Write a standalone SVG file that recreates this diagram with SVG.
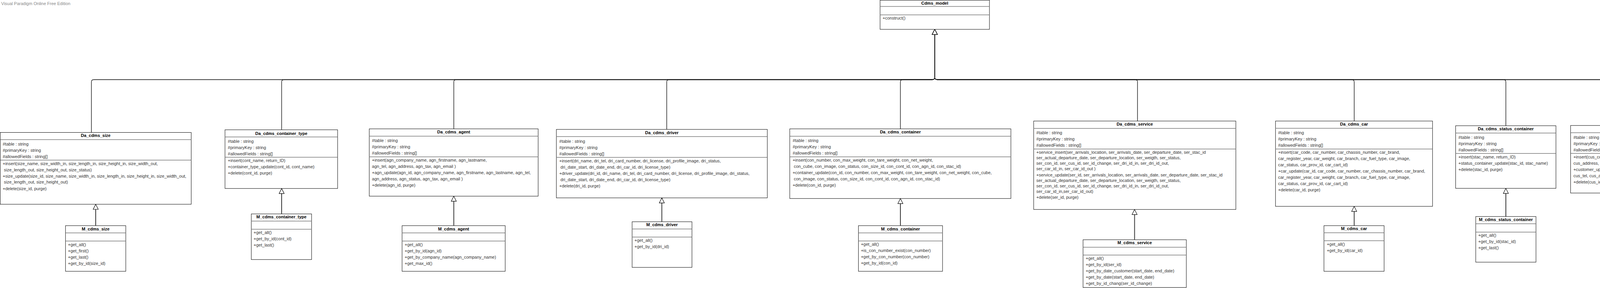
<svg xmlns="http://www.w3.org/2000/svg" width="4713" height="736" viewBox="0 0 4713 736">
<style>
.box{fill:#fff;stroke:#000;stroke-width:1}
.sep{fill:none;stroke:#7a7a7a;stroke-width:1.5}
.hdr{font-family:"Liberation Sans",Arial,sans-serif;font-size:11px;font-weight:bold;fill:#000;text-anchor:middle}
.mem{font-family:"Liberation Sans",Arial,sans-serif;font-size:11px;fill:#333}
.conn{fill:none;stroke:#000;stroke-width:1.3}
.gen{fill:none;stroke:#333;stroke-width:2}
.wm{font-family:"Liberation Sans",Arial,sans-serif;font-size:11px;fill:#888}
</style>
<defs>
<marker id="tri" markerUnits="userSpaceOnUse" markerWidth="16" markerHeight="16" viewBox="-1 -1 16 16" refX="13" refY="6.5" orient="auto" overflow="visible">
<path d="M13 6.5L0 0L0 13Z" fill="#fff" stroke="#000" stroke-width="1.2"/>
</marker>
</defs>
<rect width="4713" height="736" fill="#fff"/>
<text class="wm" x="3" y="13">Visual Paradigm Online Free Edition</text>
<text class="wm" x="4515" y="730">Visual Paradigm Online Free Edition</text>

<g id="connectors">
<path class="conn" marker-end="url(#tri)" d="M234 338.5V209.5Q234 203.5 240 203.5H2387Q2393 203.5 2393 197.5V75"/>
<path class="conn" marker-end="url(#tri)" d="M721 331.7V209.5Q721 203.5 727 203.5H2387Q2393 203.5 2393 197.5V75"/>
<path class="conn" marker-end="url(#tri)" d="M1161.7 329.3V209.5Q1161.7 203.5 1167.7 203.5H2387Q2393 203.5 2393 197.5V75"/>
<path class="conn" marker-end="url(#tri)" d="M1706.8 330.7V209.5Q1706.8 203.5 1712.8 203.5H2387Q2393 203.5 2393 197.5V75"/>
<path class="conn" marker-end="url(#tri)" d="M2305 329.3V209.5Q2305 203.5 2311 203.5H2387Q2393 203.5 2393 197.5V75"/>
<path class="conn" marker-end="url(#tri)" d="M2912 309.3V209.5Q2912 203.5 2906 203.5H2399Q2393 203.5 2393 197.5V75"/>
<path class="conn" marker-end="url(#tri)" d="M3466.7 309.3V209.5Q3466.7 203.5 3460.7 203.5H2399Q2393 203.5 2393 197.5V75"/>
<path class="conn" marker-end="url(#tri)" d="M3855 321.3V209.5Q3855 203.5 3849 203.5H2399Q2393 203.5 2393 197.5V75"/>
<path class="conn" marker-end="url(#tri)" d="M4236.8 320.7V209.5Q4236.8 203.5 4230.8 203.5H2399Q2393 203.5 2393 197.5V75"/>
<path class="conn" marker-end="url(#tri)" d="M4601.7 327.3V209.5Q4601.7 203.5 4595.7 203.5H2399Q2393 203.5 2393 197.5V75"/>
<path class="gen" marker-end="url(#tri)" d="M245 576.7V522"/>
<path class="gen" marker-end="url(#tri)" d="M721 546.7V481.7"/>
<path class="gen" marker-end="url(#tri)" d="M1161.7 576.7V501.3"/>
<path class="gen" marker-end="url(#tri)" d="M1694.3 566.7V505.7"/>
<path class="gen" marker-end="url(#tri)" d="M2305 576.7V507.3"/>
<path class="gen" marker-end="url(#tri)" d="M2904.5 612.7V535.3"/>
<path class="gen" marker-end="url(#tri)" d="M3466.7 576.7V527.3"/>
<path class="gen" marker-end="url(#tri)" d="M3855 553.3V481.3"/>
<path class="gen" marker-end="url(#tri)" d="M4236.8 553.3V493.3"/>
<path class="gen" marker-end="url(#tri)" d="M4601.7 530.3V465.7"/>
</g>

<g id="Cdms_model">
<rect class="box" x="2253" y="0.5" width="280" height="74.5"/>
<path class="sep" d="M2253 16.5H2533M2253 38H2533"/>
<text class="hdr" x="2393" y="12">Cdms_model</text>
<text class="mem" x="2259.5" y="50">+construct()</text>
</g>

<g id="Da_cdms_size">
<rect class="box" x="0.5" y="338.5" width="489" height="183.5"/>
<path class="sep" d="M0.5 356.7H489.5M0.5 409.3H489.5"/>
<text class="hdr" x="245" y="350">Da_cdms_size</text>
<text class="mem" x="7" y="372">#table : string</text>
<text class="mem" x="7" y="387.5">#primaryKey : string</text>
<text class="mem" x="7" y="403.5">#allowedFields : string[]</text>
<text class="mem" x="7" y="422">+insert(size_name, size_width_in, size_length_in, size_height_in, size_width_out,</text>
<text class="mem" x="10" y="437.5">size_length_out, size_height_out, size_status)</text>
<text class="mem" x="7" y="453.5">+size_update(size_id, size_name, size_width_in, size_length_in, size_height_in, size_width_out,</text>
<text class="mem" x="10" y="469.2">size_length_out, size_height_out)</text>
<text class="mem" x="7" y="485.8">+delete(size_id, purge)</text>
</g>

<g id="M_cdms_size">
<rect class="box" x="167.7" y="576.7" width="154.3" height="116.6"/>
<path class="sep" d="M167.7 595.3H322M167.7 616H322"/>
<text class="hdr" x="244.8" y="588.5">M_cdms_size</text>
<text class="mem" x="174" y="628.5">+get_all()</text>
<text class="mem" x="174" y="644.5">+get_first()</text>
<text class="mem" x="174" y="660.5">+get_last()</text>
<text class="mem" x="174" y="676.5">+get_by_id(size_id)</text>
</g>

<g id="Da_cdms_container_type">
<rect class="box" x="576" y="331.7" width="288.3" height="150"/>
<path class="sep" d="M576 350H864.3M576 401.7H864.3"/>
<text class="hdr" x="720.2" y="344.5">Da_cdms_container_type</text>
<text class="mem" x="583.3" y="365">#table : string</text>
<text class="mem" x="583.3" y="381">#primaryKey : string</text>
<text class="mem" x="583.3" y="397">#allowedFields : string[]</text>
<text class="mem" x="583.3" y="414">+insert(cont_name, return_ID)</text>
<text class="mem" x="583.3" y="430">+container_type_update(cont_id, cont_name)</text>
<text class="mem" x="583.3" y="446">+delete(cont_id, purge)</text>
</g>

<g id="M_cdms_container_type">
<rect class="box" x="643.3" y="546.7" width="154.4" height="116.6"/>
<path class="sep" d="M643.3 565H797.7M643.3 585.7H797.7"/>
<text class="hdr" x="720.5" y="558">M_cdms_container_type</text>
<text class="mem" x="649.3" y="598">+get_all()</text>
<text class="mem" x="649.3" y="614">+get_by_id(cont_id)</text>
<text class="mem" x="649.3" y="630">+get_last()</text>
</g>

<g id="Da_cdms_agent">
<rect class="box" x="945.3" y="329.3" width="432.4" height="172"/>
<path class="sep" d="M945.3 348H1377.7M945.3 400.7H1377.7"/>
<text class="hdr" x="1161.5" y="340.5">Da_cdms_agent</text>
<text class="mem" x="952.3" y="362.5">#table : string</text>
<text class="mem" x="952.3" y="378.5">#primaryKey : string</text>
<text class="mem" x="952.3" y="394.5">#allowedFields : string[]</text>
<text class="mem" x="952.3" y="413">+insert(agn_company_name, agn_firstname, agn_lastname,</text>
<text class="mem" x="952.3" y="428.5">agn_tel, agn_address, agn_tax, agn_email )</text>
<text class="mem" x="952.3" y="444.5">+agn_update(agn_id, agn_company_name, agn_firstname, agn_lastname, agn_tel,</text>
<text class="mem" x="952.3" y="460.5">agn_address, agn_status, agn_tax, agn_email )</text>
<text class="mem" x="952.3" y="476.5">+delete(agn_id, purge)</text>
</g>

<g id="M_cdms_agent">
<rect class="box" x="1029.3" y="576.7" width="264" height="116.6"/>
<path class="sep" d="M1029.3 595.3H1293.3M1029.3 616H1293.3"/>
<text class="hdr" x="1161.3" y="588.5">M_cdms_agent</text>
<text class="mem" x="1036" y="628.5">+get_all()</text>
<text class="mem" x="1036" y="644.5">+get_by_id(agn_id)</text>
<text class="mem" x="1036" y="660.5">+get_by_company_name(agn_company_name)</text>
<text class="mem" x="1036" y="676.5">+get_max_id()</text>
</g>

<g id="Da_cdms_driver">
<rect class="box" x="1424.3" y="330.7" width="540" height="175"/>
<path class="sep" d="M1424.3 349H1964.3M1424.3 402.3H1964.3"/>
<text class="hdr" x="1694.3" y="342.5">Da_cdms_driver</text>
<text class="mem" x="1431.8" y="364.5">#table : string</text>
<text class="mem" x="1431.8" y="380.5">#primaryKey : string</text>
<text class="mem" x="1431.8" y="396.5">#allowedFields : string[]</text>
<text class="mem" x="1431.8" y="414.5">+insert(dri_name, dri_tel, dri_card_number, dri_license, dri_profile_image, dri_status,</text>
<text class="mem" x="1434.8" y="430.5">dri_date_start, dri_date_end, dri_car_id, dri_license_type)</text>
<text class="mem" x="1431.8" y="446.5">+driver_update(dri_id, dri_name, dri_tel, dri_card_number, dri_license, dri_profile_image, dri_status,</text>
<text class="mem" x="1434.8" y="462.5">dri_date_start, dri_date_end, dri_car_id, dri_license_type)</text>
<text class="mem" x="1431.8" y="478.5">+delete(dri_id, purge)</text>
</g>

<g id="M_cdms_driver">
<rect class="box" x="1618.2" y="566.7" width="153.2" height="116.6"/>
<path class="sep" d="M1618.2 585.3H1771.4M1618.2 605.7H1771.4"/>
<text class="hdr" x="1694.8" y="578">M_cdms_driver</text>
<text class="mem" x="1624.3" y="618">+get_all()</text>
<text class="mem" x="1624.3" y="633.5">+get_by_id(dri_id)</text>
</g>

<g id="Da_cdms_container">
<rect class="box" x="2021.8" y="329.3" width="566.1" height="178"/>
<path class="sep" d="M2021.8 348.3H2587.9M2021.8 400.7H2587.9"/>
<text class="hdr" x="2304.9" y="340.5">Da_cdms_container</text>
<text class="mem" x="2029.2" y="362.5">#table : string</text>
<text class="mem" x="2029.2" y="378.5">#primaryKey : string</text>
<text class="mem" x="2029.2" y="394.5">#allowedFields : string[]</text>
<text class="mem" x="2029.2" y="413">+insert(con_number, con_max_weight, con_tare_weight, con_net_weight,</text>
<text class="mem" x="2032.2" y="429">con_cube, con_image, con_status, con_size_id, con_cont_id, con_agn_id, con_stac_id)</text>
<text class="mem" x="2029.2" y="444.5">+container_update(con_id, con_number, con_max_weight, con_tare_weight, con_net_weight, con_cube,</text>
<text class="mem" x="2032.2" y="460.5">con_image, con_status, con_size_id, con_cont_id, con_agn_id, con_stac_id)</text>
<text class="mem" x="2029.2" y="476.5">+delete(con_id, purge)</text>
</g>

<g id="M_cdms_container">
<rect class="box" x="2197.6" y="576.7" width="215.3" height="116.6"/>
<path class="sep" d="M2197.6 595.3H2412.9M2197.6 615.7H2412.9"/>
<text class="hdr" x="2305.3" y="588.5">M_cdms_container</text>
<text class="mem" x="2203.9" y="628">+get_all()</text>
<text class="mem" x="2203.9" y="644">+is_con_number_exist(con_number)</text>
<text class="mem" x="2203.9" y="660">+get_by_con_number(con_number)</text>
<text class="mem" x="2203.9" y="676">+get_by_id(con_id)</text>
</g>

<g id="Da_cdms_service">
<rect class="box" x="2646.2" y="309.3" width="517.6" height="226"/>
<path class="sep" d="M2646.2 328.3H3163.8M2646.2 380.7H3163.8"/>
<text class="hdr" x="2905" y="320.5">Da_cdms_service</text>
<text class="mem" x="2653.1" y="342.5">#table : string</text>
<text class="mem" x="2653.1" y="358.5">#primaryKey : string</text>
<text class="mem" x="2653.1" y="374.5">#allowedFields : string[]</text>
<text class="mem" x="2653.1" y="392.8">+service_insert(ser_arrivals_location, ser_arrivals_date, ser_departure_date, ser_stac_id</text>
<text class="mem" x="2653.1" y="406.8">ser_actual_departure_date, ser_departure_location, ser_weigth, ser_status,</text>
<text class="mem" x="2653.1" y="420.8">ser_con_id, ser_cus_id, ser_id_change, ser_dri_id_in, ser_dri_id_out,</text>
<text class="mem" x="2653.1" y="434.5">ser_car_id_in, ser_car_id_out )</text>
<text class="mem" x="2653.1" y="450.5">+service_update(ser_id, ser_arrivals_location, ser_arrivals_date, ser_departure_date, ser_stac_id</text>
<text class="mem" x="2653.1" y="464.5">ser_actual_departure_date, ser_departure_location, ser_weigth, ser_status,</text>
<text class="mem" x="2653.1" y="478.5">ser_con_id, ser_cus_id, ser_id_change, ser_dri_id_in, ser_dri_id_out,</text>
<text class="mem" x="2653.1" y="492.5">ser_car_id_in,ser_car_id_out)</text>
<text class="mem" x="2653.1" y="508.2">+delete(ser_id, purge)</text>
</g>

<g id="M_cdms_service">
<rect class="box" x="2772.6" y="612.7" width="264.4" height="122"/>
<path class="sep" d="M2772.6 631.7H3037M2772.6 651.7H3037"/>
<text class="hdr" x="2904.8" y="624">M_cdms_service</text>
<text class="mem" x="2779.5" y="663.5">+get_all()</text>
<text class="mem" x="2779.5" y="679.5">+get_by_id(ser_id)</text>
<text class="mem" x="2779.5" y="695.5">+get_by_date_customer(start_date, end_date)</text>
<text class="mem" x="2779.5" y="711.5">+get_by_date(start_date, end_date)</text>
<text class="mem" x="2779.5" y="727.5">+get_by_id_chang(ser_id_change)</text>
</g>

<g id="Da_cdms_car">
<rect class="box" x="3265.3" y="309.3" width="402" height="218"/>
<path class="sep" d="M3265.3 327.7H3667.3M3265.3 380.7H3667.3"/>
<text class="hdr" x="3466.3" y="320.5">Da_cdms_car</text>
<text class="mem" x="3272" y="342.5">#table : string</text>
<text class="mem" x="3272" y="358.5">#primaryKey : string</text>
<text class="mem" x="3272" y="374.5">#allowedFields : string[]</text>
<text class="mem" x="3272" y="392.8">+insert(car_code, car_number, car_chassis_number, car_brand,</text>
<text class="mem" x="3272" y="408.5">car_register_year, car_weight, car_branch, car_fuel_type, car_image,</text>
<text class="mem" x="3272" y="424.5">car_status, car_prov_id, car_cart_id)</text>
<text class="mem" x="3272" y="440.5">+car_update(car_id, car_code, car_number, car_chassis_number, car_brand,</text>
<text class="mem" x="3272" y="456.5">car_register_year, car_weight, car_branch, car_fuel_type, car_image,</text>
<text class="mem" x="3272" y="472.5">car_status, car_prov_id, car_cart_id)</text>
<text class="mem" x="3272" y="488.5">+delete(car_id, purge)</text>
</g>

<g id="M_cdms_car">
<rect class="box" x="3389.3" y="576.7" width="154" height="116.6"/>
<path class="sep" d="M3389.3 594.7H3543.3M3389.3 615.3H3543.3"/>
<text class="hdr" x="3466.3" y="588">M_cdms_car</text>
<text class="mem" x="3396.7" y="627.5">+get_all()</text>
<text class="mem" x="3396.7" y="643.5">+get_by_id(car_id)</text>
</g>

<g id="Da_cdms_status_container">
<rect class="box" x="3726.4" y="321.3" width="256.8" height="160"/>
<path class="sep" d="M3726.4 340H3983.2M3726.4 392.3H3983.2"/>
<text class="hdr" x="3854.8" y="332.5">Da_cdms_status_container</text>
<text class="mem" x="3733.6" y="354.5">#table : string</text>
<text class="mem" x="3733.6" y="370.5">#primaryKey : string</text>
<text class="mem" x="3733.6" y="386.5">#allowedFields : string[]</text>
<text class="mem" x="3733.6" y="404.5">+insert(stac_name, return_ID)</text>
<text class="mem" x="3733.6" y="420.5">+status_container_update(stac_id, stac_name)</text>
<text class="mem" x="3733.6" y="436.5">+delete(stac_id, purge)</text>
</g>

<g id="M_cdms_status_container">
<rect class="box" x="3777.9" y="553.3" width="154.2" height="116.7"/>
<path class="sep" d="M3777.9 571.7H3932.1M3777.9 593.3H3932.1"/>
<text class="hdr" x="3855" y="564.5">M_cdms_status_container</text>
<text class="mem" x="3784.3" y="604.5">+get_all()</text>
<text class="mem" x="3784.3" y="620.5">+get_by_id(stac_id)</text>
<text class="mem" x="3784.3" y="636.5">+get_last()</text>
</g>

<g id="Da_cdms_customer">
<rect class="box" x="4020.7" y="320.7" width="432.6" height="172.6"/>
<path class="sep" d="M4020.7 339.3H4453.3M4020.7 392H4453.3"/>
<text class="hdr" x="4237" y="332.5">Da_cdms_customer</text>
<text class="mem" x="4027.9" y="354.5">#table : string</text>
<text class="mem" x="4027.9" y="370.5">#primaryKey : string</text>
<text class="mem" x="4027.9" y="386.5">#allowedFields : string[]</text>
<text class="mem" x="4027.9" y="404.5">+insert(cus_company_name, cus_firstname, cus_lastname, cus_tel,</text>
<text class="mem" x="4027.9" y="420.5">cus_address, cus_status, cus_tax, cus_email, cus_branch)</text>
<text class="mem" x="4027.9" y="436.5">+customer_update(cus_id, cus_company_name, cus_firstname, cus_lastname,</text>
<text class="mem" x="4027.9" y="452.5">cus_tel, cus_adress, cus_tax, cus_email, cus_branch)</text>
<text class="mem" x="4027.9" y="468.5">+delete(cus_id, purge)</text>
</g>

<g id="M_cdms_customer">
<rect class="box" x="4099" y="553.3" width="276" height="122.7"/>
<path class="sep" d="M4099 572H4375M4099 592.7H4375"/>
<text class="hdr" x="4237" y="564.5">M_cdms_customer</text>
<text class="mem" x="4106" y="604">+get_all()</text>
<text class="mem" x="4106" y="620">+get_by_id(cus_id)</text>
<text class="mem" x="4106" y="636">+get_by_name(cus_company_name, cus_branch)</text>
<text class="mem" x="4106" y="652">+is_cus_branch_exist(cus_company_name)</text>
<text class="mem" x="4106" y="668">+get_by_date(start_date, end_date)</text>
</g>

<g id="Da_cdms_car_type">
<rect class="box" x="4490.3" y="327.3" width="222" height="138.4"/>
<path class="sep" d="M4490.3 345.3H4712.3M4490.3 398.7H4712.3"/>
<text class="hdr" x="4601.3" y="338.5">Da_cdms_car_type</text>
<text class="mem" x="4497.3" y="360.5">#table : string</text>
<text class="mem" x="4497.3" y="376.5">#primaryKey : string</text>
<text class="mem" x="4497.3" y="392.5">#allowedFields : string[]</text>
<text class="mem" x="4497.3" y="410.5">+insert(cart_name, return_ID)</text>
<text class="mem" x="4497.3" y="426.5">+car_typr_update(cart_id, cart_name)</text>
<text class="mem" x="4497.3" y="442.5">+delete(cart_id, purge)</text>
</g>

<g id="M_cdms_car_type">
<rect class="box" x="4524.3" y="530.3" width="154" height="116.7"/>
<path class="sep" d="M4524.3 549H4678.3M4524.3 569.7H4678.3"/>
<text class="hdr" x="4601.3" y="542">M_cdms_car_type</text>
<text class="mem" x="4531" y="581">+get_all()</text>
<text class="mem" x="4531" y="597">+get_last()</text>
</g>
</svg>
